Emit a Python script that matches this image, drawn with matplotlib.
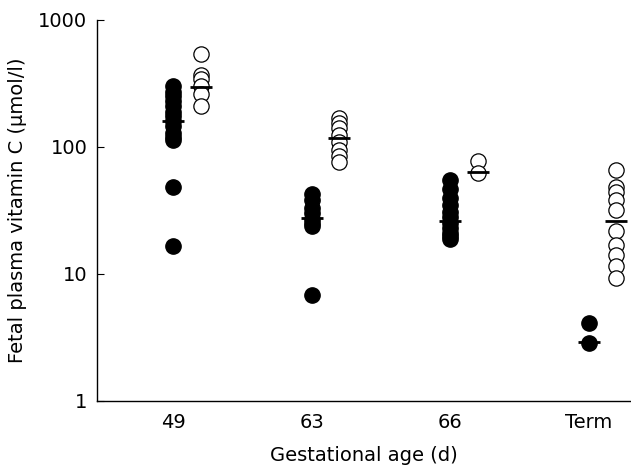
import matplotlib.pyplot as plt
import numpy as np

plt.rcParams['font.family'] = ['DejaVu Sans']

categories = ["49", "63", "66", "Term"]

# filled circles (first group) per gestational age
filled = [
    [300, 270, 250, 230, 210, 190, 175, 160, 145, 130, 120, 113, 48, 16.6],
    [43, 38, 33, 30, 27, 25, 24, 6.8],
    [55, 47, 40, 35, 31, 28, 25, 23, 21, 20, 19],
    [4.1, 2.86],
]
filled_mean = [160, 27.6, 26, 2.9]

# open circles (second group)
hollow = [
    [540, 370, 340, 300, 260, 210],
    [170, 155, 140, 125, 110, 95, 85, 76],
    [77.6, 62],
    [66, 48, 44, 38, 32, 22, 17, 14, 11.5, 9.3],
]
hollow_mean = [297, 118, 64, 26]

fig = plt.figure(figsize=(6.31, 4.66), dpi=100)
ax = fig.add_axes([0.1537, 0.1395, 0.845, 0.8176])

off = 0.2
for i in range(len(categories)):
    ax.plot([i] * len(filled[i]), filled[i], 'o', ms=11, mfc='black', mec='black', zorder=3)
    ax.plot([i + off] * len(hollow[i]), hollow[i], 'o', ms=11, mfc='white', mec='black', mew=0.9, zorder=3)
    ax.plot([i], [filled_mean[i]], '_', ms=16, mew=2, color='black', zorder=4)
    ax.plot([i + off], [hollow_mean[i]], '_', ms=16, mew=2, color='black', zorder=4)

ax.set_yscale('log')
ax.set_ylim(1, 1000)
ax.set_xlim(-0.55, 3.3)
ax.set_yticks([1, 10, 100, 1000])
ax.set_yticklabels(["1", "10", "100", "1000"])
ax.minorticks_off()
ax.set_xticks(range(len(categories)))
ax.set_xticklabels(categories)

for s in ['top', 'right']:
    ax.spines[s].set_visible(False)
ax.spines['left'].set_linewidth(1)
ax.spines['bottom'].set_linewidth(1)

ax.tick_params(axis='y', which='major', direction='in', length=5, labelsize=14, pad=7)
ax.tick_params(axis='x', length=0, labelsize=14, pad=9)

ax.set_ylabel("Fetal plasma vitamin C (\u00b5mol/l)", fontsize=14, labelpad=8)
ax.set_xlabel("Gestational age (d)", fontsize=14, labelpad=10)

fig.savefig("out.png", dpi=100)
